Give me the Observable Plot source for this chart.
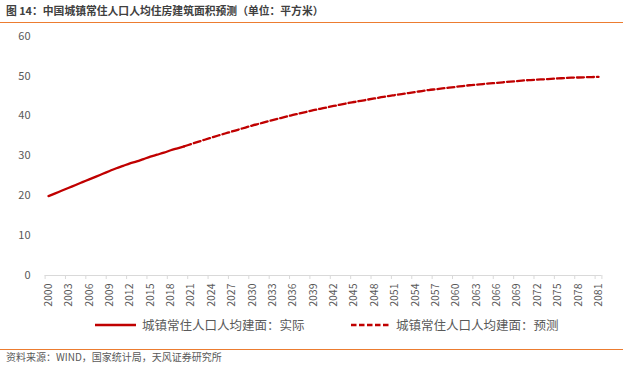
<!DOCTYPE html>
<html><head><meta charset="utf-8">
<script src="https://cdn.jsdelivr.net/npm/d3@7"></script>
<script src="https://cdn.jsdelivr.net/npm/@observablehq/plot@0.6"></script>
<style>
body{margin:0;width:623px;height:370px;position:relative;background:#fff;font-family:"Noto Sans CJK SC",sans-serif;overflow:hidden}
#title{position:absolute;left:6px;top:2px;font-size:10.8px;font-weight:bold;color:#404040;line-height:16px;white-space:nowrap}
.rule{position:absolute;left:0;width:623px;height:1.5px;background:#EC7C30}
#chart{position:absolute;left:0;top:25px}
#legend{position:absolute;top:317px;left:0;width:623px;height:16px;font-size:12.5px;color:#595959}
.item{position:absolute;top:0;display:flex;align-items:center;white-space:nowrap;line-height:16px}
.item svg{margin-right:6px}
#caption{position:absolute;left:6px;top:349px;font-size:10px;color:#595959;line-height:16px;white-space:nowrap}
</style>
</head><body>
<div id="title">图 14：中国城镇常住人口人均住房建筑面积预测（单位：平方米）</div>
<div class="rule" style="top:21.5px"></div>
<div id="chart"></div>
<div id="legend">
  <div class="item" style="left:95px"><svg width="41" height="4"><line x1="0" y1="2" x2="41" y2="2" stroke="#C00000" stroke-width="2.3"/></svg><span id="lab1"></span></div>
  <div class="item" style="left:351px"><svg width="39" height="4"><line x1="0" y1="2" x2="39" y2="2" stroke="#C00000" stroke-width="2.3" stroke-dasharray="5.5,2.5"/></svg><span id="lab2"></span></div>
</div>
<div class="rule" style="top:348.5px"></div>
<div id="caption">资料来源：WIND，国家统计局，天风证券研究所</div>
<script>
// ---- data ----
const seriesNames = ["城镇常住人口人均建面：实际", "城镇常住人口人均建面：预测"];
const actualStart = 2000;
const actualValues = [19.9, 20.6, 21.3, 22.0, 22.7, 23.4, 24.1, 24.8, 25.5, 26.2, 26.9,
  27.5, 28.1, 28.6, 29.2, 29.8, 30.3, 30.8, 31.4, 31.9, 32.4];
const forecastStart = 2020;
const forecastValues = [32.4, 32.95, 33.5, 34.04, 34.57, 35.1, 35.6, 36.1, 36.6, 37.1, 37.6,
  38.05, 38.5, 38.95, 39.4, 39.85, 40.25, 40.65, 41.05, 41.45, 41.8,
  42.15, 42.5, 42.85, 43.2, 43.5, 43.8, 44.1, 44.4, 44.7, 45.0,
  45.25, 45.5, 45.75, 46.0, 46.25, 46.5, 46.7, 46.9, 47.1, 47.3,
  47.5, 47.7, 47.85, 48.0, 48.15, 48.3, 48.45, 48.6, 48.75, 48.9,
  49.0, 49.1, 49.2, 49.3, 49.4, 49.5, 49.6, 49.65, 49.7, 49.75, 49.8];
const xTickLabels = [2000, 2003, 2006, 2009, 2012, 2015, 2018, 2021, 2024, 2027, 2030, 2033, 2036, 2039,
  2042, 2045, 2048, 2051, 2054, 2057, 2060, 2063, 2066, 2069, 2072, 2075, 2078, 2081];
const yTicks = [0, 10, 20, 30, 40, 50, 60];

// ---- build ----
const actual = actualValues.map((v, i) => ({year: actualStart + i, value: v}));
const forecast = forecastValues.map((v, i) => ({year: forecastStart + i, value: v}));
const firstYear = xTickLabels[0], lastYear = xTickLabels[xTickLabels.length - 1];
const boundaries = xTickLabels.map(d => d - 0.5).concat([lastYear + 0.5]);

document.getElementById("lab1").textContent = seriesNames[0];
document.getElementById("lab2").textContent = seriesNames[1];

const chart = Plot.plot({
  width: 623, height: 290,
  marginLeft: 44.6, marginRight: 21.6, marginTop: 10.7, marginBottom: 40,
  x: {domain: [firstYear - 0.5, lastYear + 0.5]},
  y: {domain: [0, 60]},
  style: {fontFamily: "'Noto Sans CJK SC', sans-serif", fontSize: "11px", color: "#595959", background: "transparent"},
  marks: [
    Plot.ruleY([0], {stroke: "#d9d9d9", strokeWidth: 1}),
    Plot.axisX(boundaries, {tickSize: 4, tickFormat: () => "", label: null, stroke: "#d9d9d9", strokeOpacity: 1}),
    Plot.axisX(xTickLabels, {tickSize: 0, tickRotate: -90, tickPadding: 8, tickFormat: d => String(d), label: null, fontSize: 10.5, fill: "#595959"}),
    Plot.axisY(yTicks, {tickSize: 0, tickPadding: 14.6, label: null, fontSize: 11, fill: "#595959"}),
    Plot.line(actual, {x: "year", y: "value", stroke: "#C00000", strokeWidth: 2.3, curve: "monotone-x"}),
    Plot.line(forecast, {x: "year", y: "value", stroke: "#C00000", strokeWidth: 2.3, strokeDasharray: "7,3", curve: "monotone-x"})
  ]
});
document.getElementById("chart").appendChild(chart);
</script>
</body></html>
